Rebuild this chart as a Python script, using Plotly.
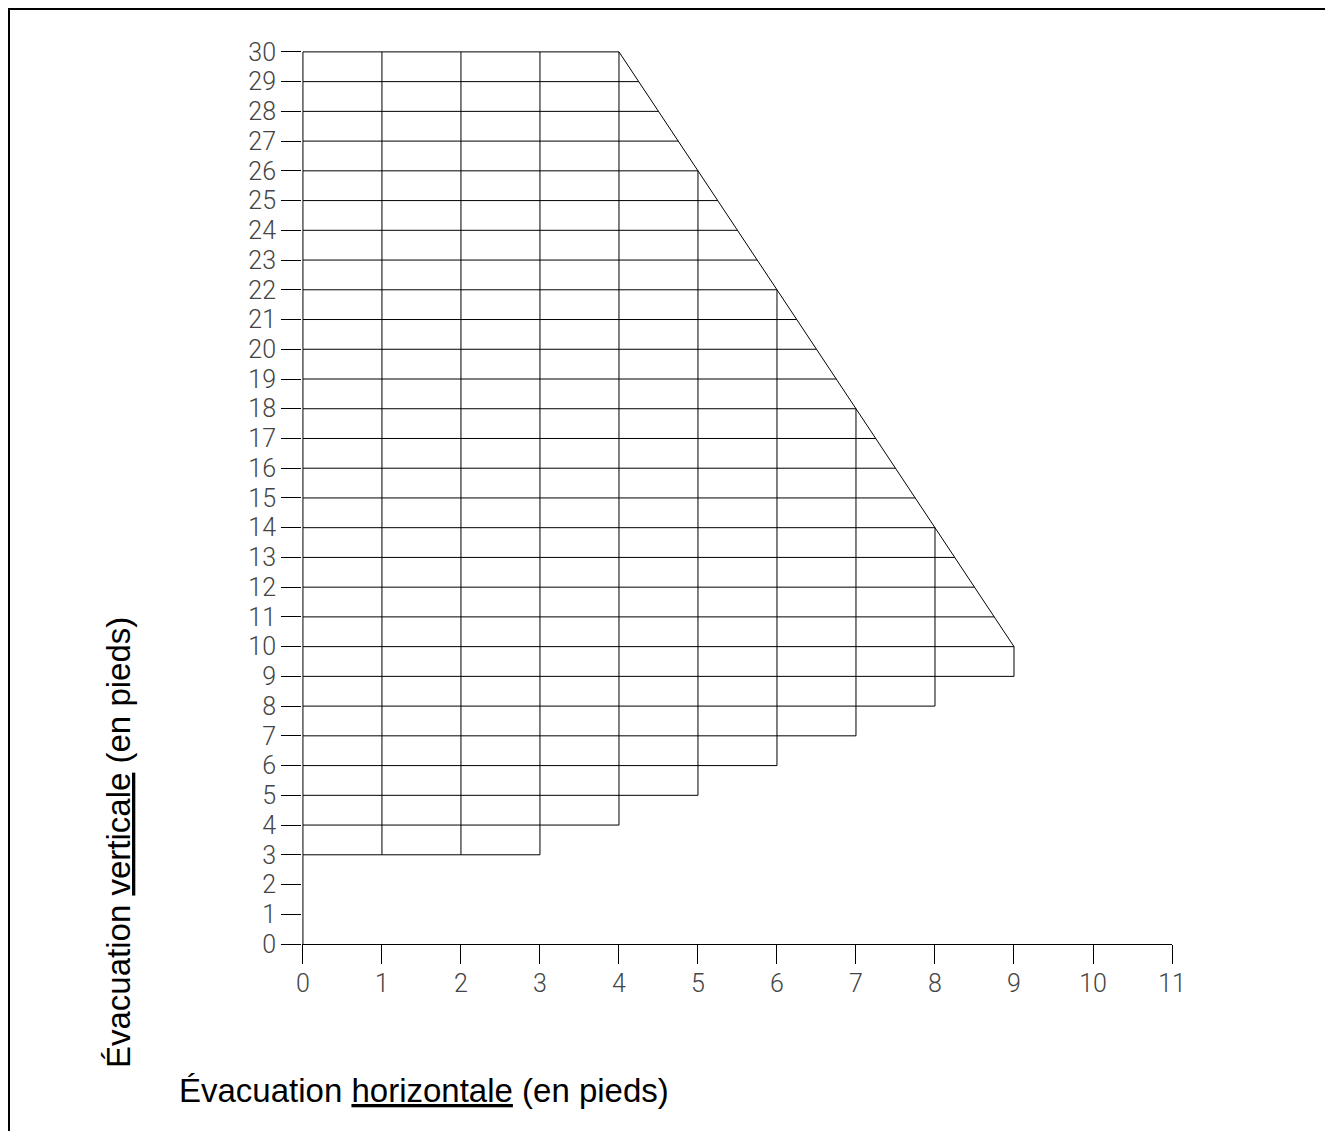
import plotly.graph_objects as go

# ---- data ----
x_ticks = [0, 1, 2, 3, 4, 5, 6, 7, 8, 9, 10, 11]
y_ticks = list(range(0, 31))

# vertical grid lines: x position, bottom, top (feet)
vert_x = [0, 1, 2, 3, 4, 5, 6, 7, 8, 9]
vert_bottom = [0, 3, 3, 3, 4, 5, 6, 7, 8, 9]
vert_top = [30, 30, 30, 30, 30, 26, 22, 18, 14, 10]

# horizontal grid lines: level and right end (all start at x = 0)
horiz_y = [3, 4, 5, 6, 7, 8, 9, 10, 11, 12, 13, 14, 15, 16, 17, 18, 19, 20,
           21, 22, 23, 24, 25, 26, 27, 28, 29, 30]
horiz_right = [3, 4, 5, 6, 7, 8, 9, 9, 8.75, 8.5, 8.25, 8, 7.75, 7.5, 7.25, 7,
               6.75, 6.5, 6.25, 6, 5.75, 5.5, 5.25, 5, 4.75, 4.5, 4.25, 4]

# sloped limit
diag_x = [4, 9]
diag_y = [30, 10]

# ---- build segments ----
xs, ys = [], []
for x, b, t in zip(vert_x, vert_bottom, vert_top):
    xs += [x, x, None]
    ys += [b, t, None]
for y, r in zip(horiz_y, horiz_right):
    xs += [0, r, None]
    ys += [y, y, None]
xs += diag_x + [None]
ys += diag_y + [None]

fig = go.Figure()
fig.add_trace(go.Scatter(x=xs, y=ys, mode="lines",
                         line=dict(color="black", width=1),
                         hoverinfo="skip", showlegend=False))

# page body has an 8px margin: work in figure coordinates = screen - 8
OFF = 8
W, H = 1325, 1123
L, R, T, B = 294, 161, 43, 187
pw, ph = W - L - R, H - T - B

def px2paper_x(px):
    return (px - OFF - L) / pw

def px2paper_y(py):
    return (H - B - (py - OFF)) / ph

tickfont = dict(family="Roboto", size=25, color="#444", weight=300)

fig.update_layout(
    width=W, height=H,
    margin=dict(l=L, r=R, t=T, b=B),
    paper_bgcolor="white", plot_bgcolor="white",
    xaxis=dict(range=[-0.012, 11], tickvals=x_ticks, ticktext=[str(v) for v in x_ticks],
               showgrid=False, zeroline=False, showline=True, linecolor="black", linewidth=1,
               ticks="outside", ticklen=19, tickwidth=1, tickcolor="black",
               tickfont=tickfont, ticklabelstandoff=-2),
    yaxis=dict(range=[0, 30.03], tickvals=y_ticks, ticktext=[str(v) for v in y_ticks],
               showgrid=False, zeroline=False, showline=False,
               ticks="outside", ticklen=20, tickwidth=1, tickcolor="black",
               tickfont=tickfont, ticklabelstandoff=0),
    shapes=[dict(type="rect", xref="paper", yref="paper",
                 x0=px2paper_x(9), x1=px2paper_x(1332),
                 y0=px2paper_y(1140), y1=px2paper_y(9),
                 line=dict(color="black", width=2), fillcolor="rgba(0,0,0,0)")],
    annotations=[
        dict(text="Évacuation <u>horizontale</u> (en pieds)", xref="paper", yref="paper",
             x=px2paper_x(177), y=px2paper_y(1090), xanchor="left", yanchor="middle",
             showarrow=False, font=dict(family="Liberation Sans, Arial", size=33, color="black")),
        dict(text="Évacuation <u>verticale</u> (en pieds)", xref="paper", yref="paper",
             x=px2paper_x(118), y=px2paper_y(843), xanchor="center", yanchor="middle",
             textangle=-90, showarrow=False,
             font=dict(family="Liberation Sans, Arial", size=33, color="black")),
    ],
)

fig.write_html("out.html")
